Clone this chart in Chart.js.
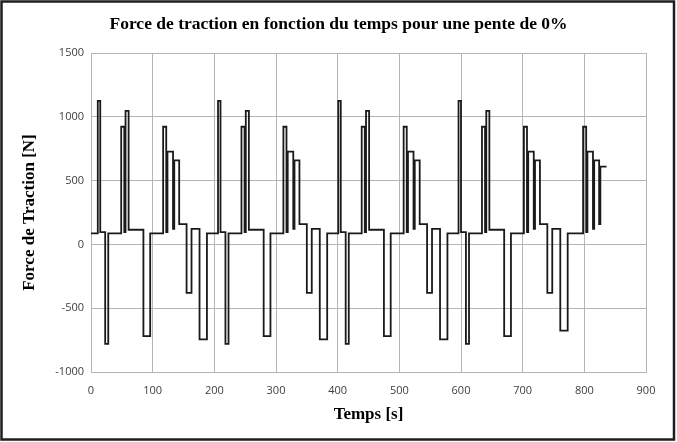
<!DOCTYPE html>
<html>
<head>
<meta charset="utf-8">
<script src="https://cdn.jsdelivr.net/npm/chart.js@4.4.1/dist/chart.umd.min.js"></script>
<style>
  html, body { margin: 0; padding: 0; background: #fff; }
  #wrap { width: 677px; height: 442px; }
</style>
</head>
<body>
<div id="wrap"><canvas id="forceChart" width="677" height="442"></canvas></div>
<script>
// instants (s) where the force changes, and the force (N) held from that instant on
const temps = [
  0, 11, 15, 23, 28, 49, 54, 56, 61, 85, 96, 117, 122, 124, 133, 135, 143, 155, 163, 176, 188,
  206, 210, 218, 223, 244, 249, 251, 256, 280, 291, 312, 317, 319, 328, 330, 338, 350, 358, 371, 383,
  401, 405, 413, 418, 439, 444, 446, 451, 475, 486, 507, 512, 514, 523, 525, 533, 545, 553, 566, 578,
  596, 600, 608, 613, 634, 639, 641, 646, 670, 681, 702, 707, 709, 718, 720, 728, 740, 748, 761, 773,
  798, 803, 805, 814, 816, 824, 826, 836
];
const force = [
  86, 1125, 96, -779, 86, 922, 96, 1047, 115, -719, 86, 922, 96, 727, 122, 659, 159, -380, 122, -745, 86,
  1125, 96, -779, 86, 922, 96, 1047, 115, -719, 86, 922, 96, 727, 122, 659, 159, -380, 122, -745, 86,
  1125, 96, -779, 86, 922, 96, 1047, 115, -719, 86, 922, 96, 727, 122, 659, 159, -380, 122, -745, 86,
  1125, 96, -779, 86, 922, 96, 1047, 115, -719, 86, 922, 96, 727, 122, 659, 159, -380, 122, -675, 86,
  922, 96, 727, 122, 659, 159, 610, 610
];

const xTicks = [0, 100, 200, 300, 400, 500, 600, 700, 800, 900];
const yTicks = [-1000, -500, 0, 500, 1000, 1500];

const points = temps.map((t, i) => ({ x: t, y: force[i] }));

const gridColor = '#b4b4b4';
const tickFont = { family: "'Open Sans', 'Liberation Sans', sans-serif", size: 11 };
const serifBold = { family: "'Liberation Serif', 'DejaVu Serif', serif", size: 17, weight: 'bold' };

// white background + dark frame around the whole picture
const cadre = {
  id: 'cadre',
  beforeDraw(chart) {
    const c = chart.ctx;
    c.save();
    c.fillStyle = '#fff';
    c.fillRect(0, 0, chart.width, chart.height);
    c.strokeStyle = '#1e1e1e';
    c.lineWidth = 2.5;
    c.strokeRect(1.5, 1.5, 672.5, 438);
    c.restore();
  }
};

new Chart(document.getElementById('forceChart'), {
  type: 'line',
  data: {
    datasets: [{
      data: points,
      stepped: 'before',
      borderColor: '#1a1a1a',
      borderWidth: 1.8,
      pointRadius: 0,
      fill: false
    }]
  },
  options: {
    responsive: false,
    animation: false,
    layout: { padding: 0 },
    plugins: {
      legend: { display: false },
      tooltip: { enabled: false },
      title: {
        display: true,
        text: 'Force de traction en fonction du temps pour une pente de 0%',
        color: '#000',
        font: { ...serifBold, size: 17.5 },
        padding: { top: 14, bottom: 18 }
      }
    },
    scales: {
      x: {
        type: 'linear',
        min: 0,
        max: 900,
        afterBuildTicks: s => { s.ticks = xTicks.map(v => ({ value: v })); },
        afterFit: s => { s.height = 70; },
        grid: { color: gridColor, drawTicks: false },
        border: { color: gridColor },
        ticks: { color: '#404040', font: tickFont, padding: 12, callback: v => String(v) },
        title: { display: true, text: 'Temps [s]', color: '#000', font: serifBold, padding: { top: 0, bottom: 17 } }
      },
      y: {
        min: -1000,
        max: 1500,
        afterBuildTicks: s => { s.ticks = yTicks.map(v => ({ value: v })); },
        afterFit: s => { s.width = 91; },
        grid: { color: gridColor, drawTicks: false },
        border: { color: gridColor },
        ticks: { color: '#404040', font: tickFont, padding: 7, callback: v => String(v) },
        title: { display: true, text: 'Force de Traction [N]', color: '#000', font: serifBold, padding: { top: 19, bottom: 0 } }
      },
      // empty right margin so the title stays centred on the whole picture
      marge: {
        position: 'right',
        min: -1000,
        max: 1500,
        afterFit: s => { s.width = 31; },
        grid: { display: false },
        border: { display: false },
        ticks: { display: false }
      }
    }
  },
  plugins: [cadre]
});
</script>
</body>
</html>
